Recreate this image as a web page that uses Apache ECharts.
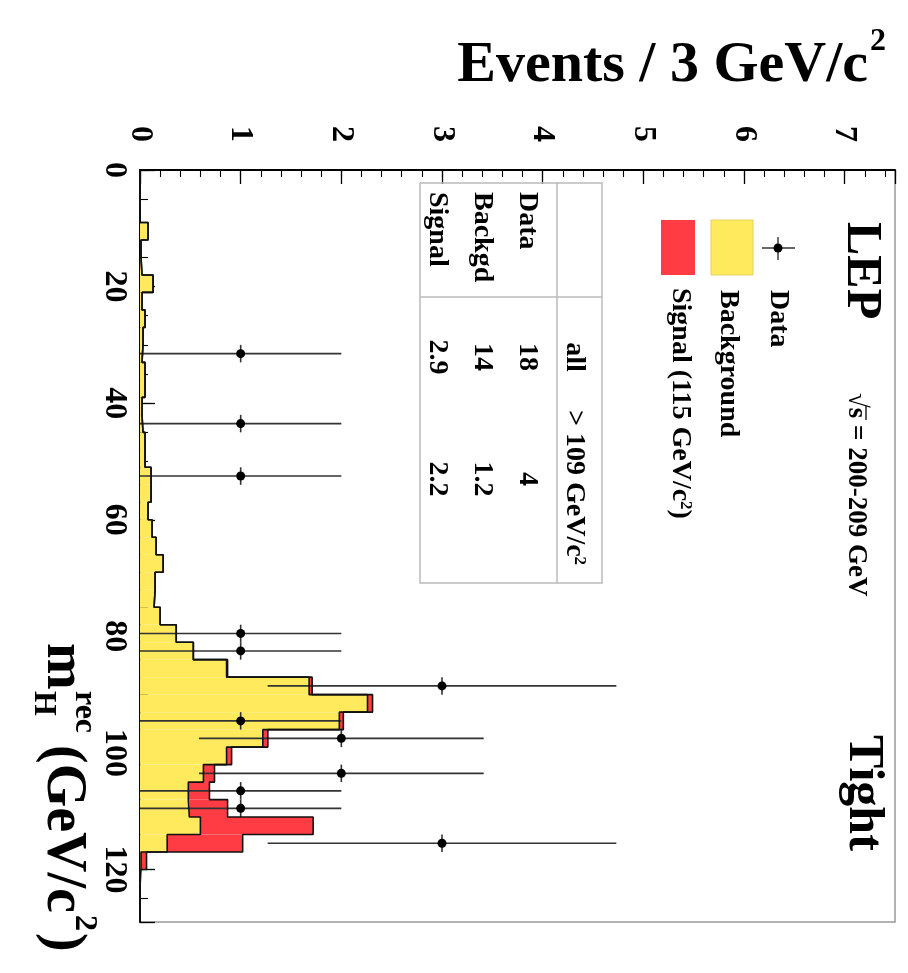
<!DOCTYPE html>
<html>
<head>
<meta charset="utf-8">
<script src="https://cdn.jsdelivr.net/npm/echarts@6/dist/echarts.min.js"></script>
<style>
  html, body { margin: 0; padding: 0; background: #fff; }
  #chart { width: 908px; height: 973px; }
</style>
</head>
<body>
<div id="chart"></div>
<script>
// reconstructed Higgs mass, 3 GeV bins starting at 0
const binWidth = 3
const massMin = 0
const massMax = 129
const background = [
  0, 0, 0, 0.08, 0.01, 0.02, 0.13, 0.02, 0.05, 0.03,
  0.02, 0.05, 0.05, 0.02, 0.03, 0.05, 0.05, 0.11, 0.11, 0.08,
  0.12, 0.16, 0.23, 0.15, 0.14, 0.20, 0.36, 0.53, 0.86, 1.68,
  2.26, 1.98, 1.22, 0.86, 0.63, 0.48, 0.49, 0.60, 0.27, 0.01,
  0, 0, 0
]
const signal = [
  0, 0, 0, 0, 0, 0, 0, 0, 0, 0,
  0, 0, 0, 0, 0, 0, 0, 0, 0, 0,
  0, 0, 0, 0, 0, 0, 0, 0, 0.01, 0.03,
  0.05, 0.04, 0.05, 0.05, 0.11, 0.21, 0.38, 1.12, 0.75, 0.055,
  0, 0, 0
]
const dataMass = [31.5, 43.5, 52.5, 79.5, 82.5, 88.5, 94.5, 97.5, 103.5, 106.5, 109.5, 115.5]
const dataCount = [1, 1, 1, 1, 1, 3, 1, 2, 2, 1, 1, 3]

// summary table
const tableRows = ['Data', 'Backgd', 'Signal']
const tableAll = ['18', '14', '2.9']
const tableHigh = ['4', '1.2', '2.2']

const serif = '"Liberation Serif", "DejaVu Serif", serif'
const yellow = '#ffe95c'
const red = '#ff3b44'

const chart = echarts.init(document.getElementById('chart'))

const binLo = (i) => massMin + i * binWidth
const bkgBars = []
const sigBars = []
background.forEach((v, i) => {
  if (v > 0) bkgBars.push([binLo(i), binLo(i) + binWidth, 0, v])
  if (signal[i] > 0) sigBars.push([binLo(i), binLo(i) + binWidth, v, v + signal[i]])
})
const total = background.map((v, i) => v + signal[i])

// step outline of a histogram
function stepLine(vals) {
  const pts = [[0, massMin]]
  vals.forEach((v, i) => {
    pts.push([v, binLo(i)], [v, binLo(i) + binWidth])
  })
  pts.push([0, binLo(vals.length)])
  return pts
}

function renderBar(params, api) {
  const p0 = api.coord([api.value(2), api.value(0)])
  const p1 = api.coord([api.value(3), api.value(1)])
  return {
    type: 'rect',
    shape: { x: p0[0], y: p0[1], width: p1[0] - p0[0], height: p1[1] - p0[1] },
    style: { fill: api.visual('color') },
  }
}

function renderPoint(params, api) {
  const m = api.value(0)
  const n = api.value(1)
  const e = Math.sqrt(n)
  const c = api.coord([n, m])
  const l = api.coord([n - e, m])
  const r = api.coord([n + e, m])
  const t = api.coord([n, m - binWidth / 2])
  const b = api.coord([n, m + binWidth / 2])
  const st = { stroke: '#333', lineWidth: 1.6 }
  return {
    type: 'group',
    children: [
      { type: 'line', shape: { x1: l[0], y1: l[1], x2: r[0], y2: r[1] }, style: st },
      { type: 'line', shape: { x1: t[0], y1: t[1], x2: b[0], y2: b[1] }, style: st },
      { type: 'circle', shape: { cx: c[0], cy: c[1], r: 4.5 }, style: { fill: '#000' } },
    ],
  }
}

// rotated text (reads top to bottom, like the rest of the figure)
function vtext(x, y, text, size, extra) {
  return {
    type: 'text', x: x, y: y, rotation: -Math.PI / 2, z: 100,
    style: Object.assign({
      text: text, fontSize: size, fontFamily: serif, fontWeight: 'bold',
      fill: '#000', align: 'left', verticalAlign: 'middle',
    }, extra || {}),
  }
}
function richSup(size, supSize) {
  return {
    a: { fontSize: size, fontFamily: serif, fontWeight: 'bold', fill: '#000' },
    s: { fontSize: supSize, fontFamily: serif, fontWeight: 'bold', fill: '#000', verticalAlign: 'top' },
  }
}
function part(x, y, text, size) {
  return {
    type: 'text', x: x, y: y, z: 100,
    style: { text: text, fontSize: size, fontFamily: serif, fontWeight: 'bold', fill: '#000', verticalAlign: 'middle' },
  }
}

const grayLine = { stroke: '#bbb', lineWidth: 1.5 }
const graphics = [
  // title
  { type: 'text', x: 868, y: 66, z: 100,
    style: { text: 'Events / 3 GeV/c', fontSize: 58, fontFamily: serif, fontWeight: 'bold', fill: '#000', align: 'right', verticalAlign: 'middle' } },
  { type: 'text', x: 870, y: 42, z: 100,
    style: { text: '2', fontSize: 32, fontFamily: serif, fontWeight: 'bold', fill: '#000', align: 'left', verticalAlign: 'middle' } },
  // mass axis name
  {
    type: 'group', x: 62, y: 643, rotation: -Math.PI / 2, z: 100,
    children: [
      part(0, 0, 'm', 56),
      part(48, 19, 'H', 32),
      part(48, -22, 'rec', 32),
      part(102, 0, '(GeV/c', 56),
      part(272, -22, '2', 32),
      part(290, 0, ')', 56),
    ],
  },
  // labels inside the frame
  vtext(861, 222, 'LEP', 50),
  vtext(856, 393, '√s = 200-209 GeV', 27),
  { type: 'line', z: 100, shape: { x1: 866, y1: 406, x2: 866, y2: 420 }, style: { stroke: '#000', lineWidth: 1.3 } },
  vtext(863, 735, 'Tight', 50),
  // legend
  { type: 'line', z: 100, shape: { x1: 762, y1: 248, x2: 795, y2: 248 }, style: { stroke: '#333', lineWidth: 1.4 } },
  { type: 'line', z: 100, shape: { x1: 778, y1: 237, x2: 778, y2: 260 }, style: { stroke: '#333', lineWidth: 1.4 } },
  { type: 'circle', z: 100, shape: { cx: 778, cy: 248, r: 4.5 }, style: { fill: '#000' } },
  vtext(778, 290, 'Data', 28),
  { type: 'rect', z: 100, shape: { x: 711, y: 220, width: 42, height: 55 }, style: { fill: yellow, stroke: '#e8d060', lineWidth: 1 } },
  vtext(728, 290, 'Background', 28),
  { type: 'rect', z: 100, shape: { x: 661, y: 220, width: 34, height: 55 }, style: { fill: red } },
  vtext(680, 288, '{a|Signal (115 GeV/c}{s|2}{a|)}', 28, { rich: richSup(28, 17) }),
  // summary table
  { type: 'rect', z: 100, shape: { x: 420, y: 183, width: 182, height: 400 }, style: Object.assign({ fill: 'none' }, grayLine) },
  { type: 'line', z: 100, shape: { x1: 557, y1: 183, x2: 557, y2: 583 }, style: grayLine },
  { type: 'line', z: 100, shape: { x1: 420, y1: 297, x2: 602, y2: 297 }, style: grayLine },
  vtext(574, 357, 'all', 28, { align: 'center' }),
  vtext(574, 410, '{a|> 109 GeV/c}{s|2}', 28, { rich: richSup(28, 17) }),
]
const rowX = [527, 482, 437]
tableRows.forEach((name, i) => {
  graphics.push(vtext(rowX[i], 192, name, 28))
  graphics.push(vtext(rowX[i], 357, tableAll[i], 28, { align: 'center' }))
  graphics.push(vtext(rowX[i], 479, tableHigh[i], 28, { align: 'center' }))
})

const gridBox = { left: 140, top: 170, right: 13, bottom: 51 }
const axisFont = { fontSize: 32, fontFamily: serif, fontWeight: 'bold', color: '#000' }

const option = {
  animation: false,
  backgroundColor: '#fff',
  grid: [
    Object.assign({ show: true, borderColor: '#999', borderWidth: 1.5 }, gridBox),
    Object.assign({}, gridBox),
  ],
  xAxis: [
    {
      type: 'value', position: 'top', min: 0, max: 7.5, interval: 1,
      axisLine: { show: true, lineStyle: { color: '#000', width: 2 } },
      axisTick: { show: true, inside: true, length: 14, lineStyle: { color: '#000', width: 1.3 } },
      splitLine: { show: false },
      axisLabel: Object.assign({
        rotate: -90, margin: 28,
        formatter: (v) => (Math.abs(v - Math.round(v)) < 1e-6 && v <= 7 ? String(Math.round(v)) : ''),
      }, axisFont),
    },
    {
      gridIndex: 1, type: 'value', position: 'top', min: 0, max: 7.5, interval: 0.2,
      axisLine: { show: false },
      axisTick: { show: true, inside: true, length: 7, lineStyle: { color: '#000', width: 1.1 } },
      axisLabel: { show: false },
      splitLine: { show: false },
    },
  ],
  yAxis: [
    {
      type: 'value', inverse: true, min: massMin, max: massMax, interval: 20,
      axisLine: { show: true, lineStyle: { color: '#000', width: 2 } },
      axisTick: { show: true, inside: true, length: 15, lineStyle: { color: '#000', width: 1.3 } },
      splitLine: { show: false },
      axisLabel: Object.assign({
        rotate: -90, margin: 10,
        formatter: (v) => (v % 20 === 0 ? String(v) : ''),
      }, axisFont),
    },
    {
      gridIndex: 1, type: 'value', inverse: true, min: massMin, max: massMax, interval: 5,
      axisLine: { show: false },
      axisTick: { show: true, inside: true, length: 8, lineStyle: { color: '#000', width: 1.1 } },
      axisLabel: { show: false },
      splitLine: { show: false },
    },
  ],
  series: [
    {
      name: 'Background', type: 'custom', renderItem: renderBar,
      itemStyle: { color: yellow }, encode: { x: [2, 3], y: [0, 1] }, data: bkgBars,
    },
    {
      name: 'Signal', type: 'custom', renderItem: renderBar,
      itemStyle: { color: red }, encode: { x: [2, 3], y: [0, 1] }, data: sigBars,
    },
    {
      type: 'line', data: stepLine(background), symbol: 'none', silent: true,
      lineStyle: { color: '#111', width: 1.6 },
    },
    {
      type: 'line', data: stepLine(total), symbol: 'none', silent: true,
      lineStyle: { color: '#111', width: 1.6 },
    },
    {
      name: 'Data', type: 'custom', renderItem: renderPoint,
      encode: { x: 1, y: 0 }, data: dataMass.map((m, i) => [m, dataCount[i]]),
    },
  ],
  graphic: graphics,
}

chart.setOption(option)
</script>
</body>
</html>
